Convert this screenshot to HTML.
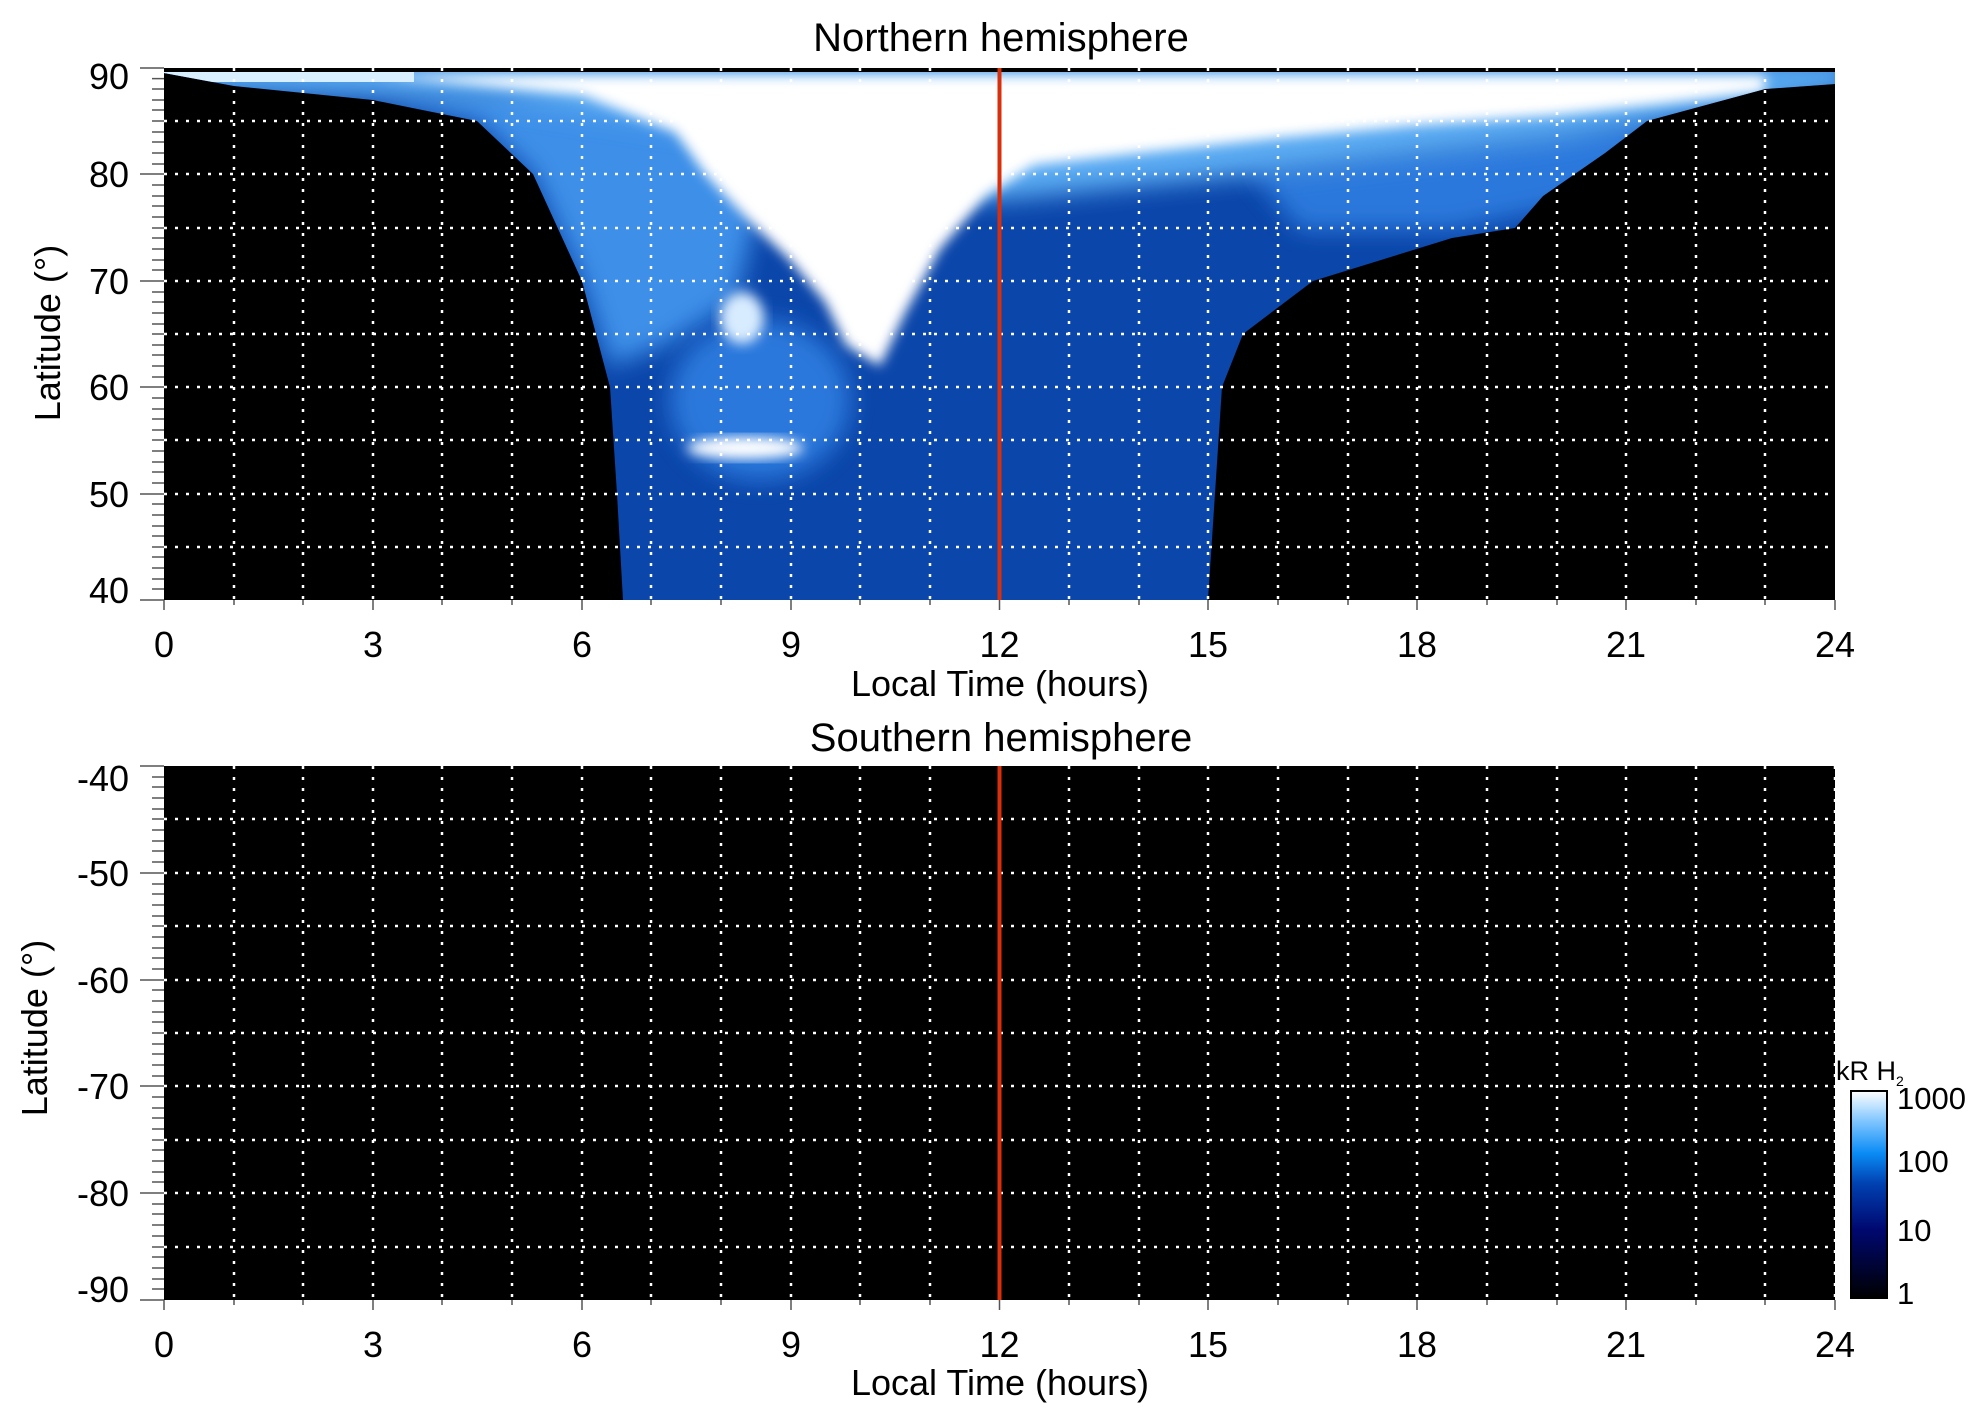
<!DOCTYPE html>
<html><head><meta charset="utf-8"><style>
html,body{margin:0;padding:0;background:#fff;}
svg{display:block;font-family:"Liberation Sans",sans-serif;}
</style></head><body>
<svg width="1983" height="1423" viewBox="0 0 1983 1423" xmlns="http://www.w3.org/2000/svg">
<defs>
<filter id="b6" x="-20%" y="-20%" width="140%" height="140%"><feGaussianBlur stdDeviation="6"/></filter>
<filter id="b12" x="-20%" y="-20%" width="140%" height="140%"><feGaussianBlur stdDeviation="12"/></filter>
<clipPath id="cp1"><rect x="164" y="68" width="1671" height="532"/></clipPath>
<clipPath id="cpB"><polygon points="623,600 617,494 610,387 582,281 533,174 477,121 373,100 234,86 164,73 164,68 1835,68 1835,84 1765,89 1647,121 1605,153 1543,196 1515,228 1452,238 1313,281 1243,334 1222,387 1208,600"/></clipPath>
<linearGradient id="cb" x1="0" y1="1" x2="0" y2="0">
<stop offset="0" stop-color="#000"/><stop offset="0.33" stop-color="#000870"/><stop offset="0.55" stop-color="#0040b0"/><stop offset="0.7" stop-color="#0a8cf5"/><stop offset="0.85" stop-color="#7cc4ff"/><stop offset="1" stop-color="#fff"/>
</linearGradient>
</defs>
<rect x="164" y="68" width="1671" height="532" fill="#000"/>
<g clip-path="url(#cp1)">
<g clip-path="url(#cpB)">
<rect x="164" y="68" width="1671" height="532" fill="#0b46aa"/>
<polygon points="533,174 477,121 373,100 651,84 721,138 756,217 735,302 665,345 610,366 582,281" fill="#3c8fe8" filter="url(#b12)"/>
<polygon points="1250,170 1560,130 1660,120 1600,200 1450,230 1300,230" fill="#2a78dc" filter="url(#b12)"/>
<polygon points="150,60 1850,60 1850,90 1560,140 1300,170 1100,190 1000,200 900,190 700,130 500,100 150,90" fill="#5aaaf2" filter="url(#b12)"/>
<ellipse cx="760" cy="400" rx="90" ry="80" fill="#2a78dc" filter="url(#b12)"/>
<polygon points="373,75 1765,75 1765,92 1661,104 1557,115 1417,125 1278,138 1139,153 1034,165 986,196 940,249 905,313 880,366 846,345 825,302 790,260 745,217 705,174 675,132 582,95" fill="#fff" filter="url(#b6)"/>
<ellipse cx="745" cy="448" rx="58" ry="11" fill="#fff" filter="url(#b6)"/>
<ellipse cx="742" cy="318" rx="22" ry="26" fill="#d8ecff" filter="url(#b6)"/>
<rect x="164" y="68" width="250" height="14" fill="#d8efff"/>
</g>
<rect x="164" y="68" width="1671" height="4" fill="#000"/>
</g>
<g stroke="#fff" stroke-width="2.5" stroke-dasharray="3 8" fill="none">
<path d="M234 68V600M303 68V600M373 68V600M442 68V600M512 68V600M582 68V600M651 68V600M721 68V600M791 68V600M860 68V600M930 68V600M1069 68V600M1139 68V600M1208 68V600M1278 68V600M1348 68V600M1417 68V600M1487 68V600M1557 68V600M1626 68V600M1696 68V600M1765 68V600"/>
<path d="M164 121H1835M164 174H1835M164 228H1835M164 281H1835M164 334H1835M164 387H1835M164 440H1835M164 494H1835M164 547H1835"/>
</g>
<line x1="999.5" y1="68" x2="999.5" y2="600" stroke="#d8300c" stroke-width="4"/>
<rect x="164" y="766" width="1671" height="534" fill="#000"/>
<g stroke="#fff" stroke-width="2.5" stroke-dasharray="3 8" fill="none">
<path d="M234 766V1300M303 766V1300M373 766V1300M442 766V1300M512 766V1300M582 766V1300M651 766V1300M721 766V1300M791 766V1300M860 766V1300M930 766V1300M1069 766V1300M1139 766V1300M1208 766V1300M1278 766V1300M1348 766V1300M1417 766V1300M1487 766V1300M1557 766V1300M1626 766V1300M1696 766V1300M1765 766V1300M1835 766V1300"/>
<path d="M164 819H1835M164 873H1835M164 926H1835M164 980H1835M164 1033H1835M164 1086H1835M164 1140H1835M164 1193H1835M164 1247H1835"/>
</g>
<line x1="999.5" y1="766" x2="999.5" y2="1300" stroke="#d8300c" stroke-width="4"/>
<g stroke="#555" stroke-width="1.5">
<path d="M140 68H164M140 174H164M140 281H164M140 387H164M140 494H164M140 600H164"/>
<path d="M152 78.6H164M152 89H164M152 100H164M152 110H164M152 121H164M152 132H164M152 142H164M152 153H164M152 164H164M152 185H164M152 196H164M152 206H164M152 217H164M152 228H164M152 238H164M152 249H164M152 260H164M152 270H164M152 292H164M152 302H164M152 313H164M152 324H164M152 334H164M152 345H164M152 355H164M152 366H164M152 377H164M152 398H164M152 409H164M152 419H164M152 430H164M152 440H164M152 451H164M152 462H164M152 472H164M152 483H164M152 504H164M152 515H164M152 526H164M152 536H164M152 547H164M152 557H164M152 568H164M152 579H164M152 589H164"/>
<path d="M140 766H164M140 873H164M140 980H164M140 1086H164M140 1193H164M140 1300H164"/>
<path d="M152 777H164M152 787H164M152 798H164M152 809H164M152 819H164M152 830H164M152 841H164M152 851H164M152 862H164M152 884H164M152 894H164M152 905H164M152 916H164M152 926H164M152 937H164M152 948H164M152 958H164M152 969H164M152 990H164M152 1001H164M152 1012H164M152 1022H164M152 1033H164M152 1044H164M152 1054H164M152 1065H164M152 1076H164M152 1097H164M152 1108H164M152 1118H164M152 1129H164M152 1140H164M152 1150H164M152 1161H164M152 1172H164M152 1182H164M152 1204H164M152 1214H164M152 1225H164M152 1236H164M152 1247H164M152 1257H164M152 1268H164M152 1279H164M152 1289H164"/>
<path d="M164 600V610M373 600V610M582 600V610M791 600V610M999.5 600V610M1208 600V610M1417 600V610M1626 600V610M1835 600V610M234 600V605M303 600V605M442 600V605M512 600V605M651 600V605M721 600V605M860 600V605M930 600V605M1069 600V605M1139 600V605M1278 600V605M1348 600V605M1487 600V605M1557 600V605M1696 600V605M1765 600V605"/>
<path d="M164 1300V1310M373 1300V1310M582 1300V1310M791 1300V1310M999.5 1300V1310M1208 1300V1310M1417 1300V1310M1626 1300V1310M1835 1300V1310M234 1300V1305M303 1300V1305M442 1300V1305M512 1300V1305M651 1300V1305M721 1300V1305M860 1300V1305M930 1300V1305M1069 1300V1305M1139 1300V1305M1278 1300V1305M1348 1300V1305M1487 1300V1305M1557 1300V1305M1696 1300V1305M1765 1300V1305"/>
</g>
<g font-size="36" fill="#000">
<text x="1001" y="51" text-anchor="middle" font-size="40">Northern hemisphere</text>
<text x="1001" y="751" text-anchor="middle" font-size="40">Southern hemisphere</text>
<g text-anchor="end">
<text x="129" y="89">90</text><text x="129" y="187">80</text><text x="129" y="294">70</text><text x="129" y="400">60</text><text x="129" y="507">50</text><text x="129" y="603">40</text>
<text x="129" y="791">-40</text><text x="129" y="886">-50</text><text x="129" y="993">-60</text><text x="129" y="1099">-70</text><text x="129" y="1206">-80</text><text x="129" y="1302">-90</text>
</g>
<g text-anchor="middle">
<text x="164" y="657">0</text><text x="373" y="657">3</text><text x="582" y="657">6</text><text x="791" y="657">9</text><text x="999.5" y="657">12</text><text x="1208" y="657">15</text><text x="1417" y="657">18</text><text x="1626" y="657">21</text><text x="1835" y="657">24</text>
<text x="164" y="1357">0</text><text x="373" y="1357">3</text><text x="582" y="1357">6</text><text x="791" y="1357">9</text><text x="999.5" y="1357">12</text><text x="1208" y="1357">15</text><text x="1417" y="1357">18</text><text x="1626" y="1357">21</text><text x="1835" y="1357">24</text>
<text x="1000" y="696">Local Time (hours)</text>
<text x="1000" y="1395">Local Time (hours)</text>
<text transform="translate(60,333) rotate(-90)">Latitude (°)</text>
<text transform="translate(47,1028) rotate(-90)">Latitude (°)</text>
</g>
</g>
<rect x="1851" y="1091" width="36" height="207" fill="url(#cb)" stroke="#000" stroke-width="2"/>
<g font-size="31" fill="#000">
<text x="1897" y="1109">1000</text><text x="1897" y="1172">100</text><text x="1897" y="1241">10</text><text x="1897" y="1304">1</text>
<text x="1836" y="1080" font-size="27">kR H<tspan font-size="14" dy="6">2</tspan></text>
</g>
</svg>
</body></html>
